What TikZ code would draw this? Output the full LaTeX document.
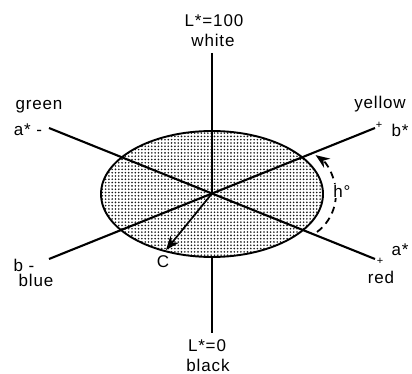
\documentclass[tikz,border=0pt]{standalone}
\usepackage{fontspec}
\setmainfont{Liberation Sans}[LetterSpace=5]
\usetikzlibrary{patterns,arrows.meta}
\pgfdeclarepatternformonly{bigdots}{\pgfqpoint{-1.2pt}{-1.2pt}}{\pgfqpoint{2.1pt}{2.1pt}}{\pgfqpoint{3.3pt}{3.3pt}}{%
  \pgfpathcircle{\pgfqpoint{0pt}{0pt}}{0.9pt}\pgfusepath{fill}}
\begin{document}
\begin{tikzpicture}[x=1pt,y=-1pt,
  lbl/.style={inner sep=0pt, font=\fontsize{17}{19}\selectfont},
  plus/.style={inner sep=0pt, font=\fontsize{11}{12}\selectfont},
  axis/.style={line width=2.1pt},
  laxis/.style={line width=2pt},
  ]
\useasboundingbox (0,0) rectangle (412,374);
% ellipse
\fill[pattern=bigdots, pattern color=black!90] (212,194) ellipse [x radius=111, y radius=63];
\draw[line width=1.9pt] (212,194) ellipse [x radius=111, y radius=63];
% axis end points
\coordinate (O) at (212,193.5);
\coordinate (Ltop) at (212,53);
\coordinate (Lbot) at (212,333);
\coordinate (Ebot) at (212,257);
\coordinate (Gend) at (49,128);
\coordinate (Rend) at (375,259);
\coordinate (Yend) at (375,128);
\coordinate (Bend) at (49,259);
\coordinate (Ctip) at (166,250);
% axes
\draw[laxis] (Ltop) -- (O);
\draw[laxis] (Ebot) -- (Lbot);
\draw[axis] (Gend) -- (Rend);
\draw[axis] (Bend) -- (Yend);
% chroma arrow
\draw[line width=1.7pt, -{Stealth[length=14pt,width=11pt]}] (O) -- (Ctip);
% hue arc
\coordinate (Hs) at (317,232);
\draw[line width=1.8pt, dash pattern=on 7pt off 5pt, -{Stealth[length=14pt,width=11pt]}]
  (Hs) arc[start angle=-53, end angle=55, radius=47.5pt];
\node[lbl, fill=white, inner sep=1pt] (h) at (342,191) {h°};
% labels
\node[lbl] (l100) at (214,21) {L*=100};
\node[lbl] (white) at (213,40) {white};
\node[lbl] (l0) at (207,346) {L*=0};
\node[lbl] (black) at (208,365) {black};
\node[lbl] (green) at (39,107) {green};
\node[lbl] (am) at (28,130) {a* -};
\node[lbl] (yellow) at (380,104) {yellow};
\node[plus] (py) at (379,125) {+};
\node[lbl] (bs) at (400,130) {b*};
\node[lbl] (bm) at (24,265) {b -};
\node[lbl] (blue) at (36,280) {blue};
\node[plus] (pr) at (380,261) {+};
\node[lbl] (as) at (400,250) {a*};
\node[lbl] (red) at (381,277) {red};
\node[lbl] (C) at (163,262) {C};
\end{tikzpicture}
\end{document}
